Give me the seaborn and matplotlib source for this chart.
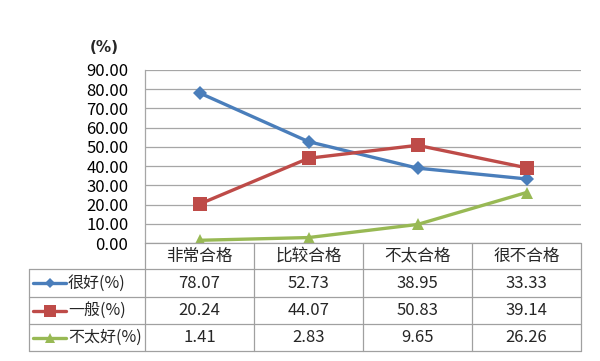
import numpy as np
import pandas as pd
import matplotlib
matplotlib.use('Agg')
import matplotlib.pyplot as plt
from matplotlib.lines import Line2D
import seaborn as sns

# data
categories = ['非常合格', '比较合格', '不太合格', '很不合格']
series_names = ['很好(%)', '一般(%)', '不太好(%)']
very_good = [78.07, 52.73, 38.95, 33.33]
normal = [20.24, 44.07, 50.83, 39.14]
not_good = [1.41, 2.83, 9.65, 26.26]
y_ticks = [0, 10, 20, 30, 40, 50, 60, 70, 80, 90]

colors = ['#4A7EBB', '#BE4B48', '#98B954']
markers = ['D', 's', '^']
msizes = [7, 10, 9]
FS = 12

sns.set_theme(style='white')
plt.rcParams['font.family'] = ['Noto Sans CJK SC', 'DejaVu Sans']

W, H = 600, 361
fig = plt.figure(figsize=(W / 100, H / 100), dpi=100)

# pixel layout
left, right, top, bottom = 145, 581, 70, 243
ax = fig.add_axes([left / W, 1 - bottom / H, (right - left) / W, (bottom - top) / H])

values = [very_good, normal, not_good]
df = pd.DataFrame({
    'cat': np.tile(categories, 3),
    'series': np.repeat(series_names, 4),
    'val': np.concatenate(values),
})

sns.lineplot(data=df, x='cat', y='val', hue='series', style='series',
             palette=dict(zip(series_names, colors)),
             markers=dict(zip(series_names, markers)), dashes=False,
             linewidth=2.4, markeredgewidth=0, legend=False, ax=ax, sort=False)
for ln, ms in zip(ax.lines, msizes):
    ln.set_markersize(ms)

ax.set_xlim(-0.5, 3.5)
ax.set_ylim(0, 90)
ax.set_yticks(y_ticks)
ax.set_yticklabels([f'{v:.2f}' for v in y_ticks], fontsize=FS, color='#000000')
ax.set_xticks([])
ax.set_xlabel('')
ax.set_ylabel('')
ax.yaxis.grid(True, color='#a6a6a6', linewidth=0.9)
ax.set_axisbelow(True)
ax.tick_params(axis='y', length=0, pad=12)
for s in ['top', 'right', 'bottom']:
    ax.spines[s].set_visible(False)
ax.spines['left'].set_color('#a6a6a6')
ax.spines['left'].set_linewidth(0.9)

fig.text(104 / W, 1 - 47 / H, '(%)', fontsize=11, fontweight='bold',
         family='DejaVu Sans', ha='center', va='center')


# data table under the plot
def fx(x):
    return x / W


def fy(y):
    return 1 - y / H


def hline(x0, x1, y):
    fig.add_artist(Line2D([fx(x0), fx(x1)], [fy(y), fy(y)], color='#a0a0a0', lw=0.9))


def vline(x, y0, y1):
    fig.add_artist(Line2D([fx(x), fx(x)], [fy(y0), fy(y1)], color='#a0a0a0', lw=0.9))


col_x = [left + i * (right - left) / 4 for i in range(5)]
row_y = [243, 269, 297, 324, 351]
tab_left = 29

hline(left, right, row_y[0])
for y in row_y[1:]:
    hline(tab_left, right, y)
for x in col_x:
    vline(x, row_y[0], row_y[-1])
vline(tab_left, row_y[1], row_y[-1])

for i, c in enumerate(categories):
    fig.text(fx((col_x[i] + col_x[i + 1]) / 2), fy((row_y[0] + row_y[1]) / 2), c,
             fontsize=FS, ha='center', va='center')

for r, (name, vals) in enumerate(zip(series_names, values)):
    yc = (row_y[r + 1] + row_y[r + 2]) / 2
    fig.add_artist(Line2D([fx(33), fx(66)], [fy(yc), fy(yc)], color=colors[r], lw=2.4))
    fig.add_artist(Line2D([fx(49.5)], [fy(yc)], color=colors[r], lw=0,
                          marker=markers[r], markersize=msizes[r] * 0.8, markeredgewidth=0))
    fig.text(fx(68), fy(yc), name, fontsize=11.5, ha='left', va='center')
    for i, v in enumerate(vals):
        fig.text(fx((col_x[i] + col_x[i + 1]) / 2), fy(yc), f'{v:.2f}',
                 fontsize=FS, ha='center', va='center')

fig.savefig('out.png', dpi=100)
